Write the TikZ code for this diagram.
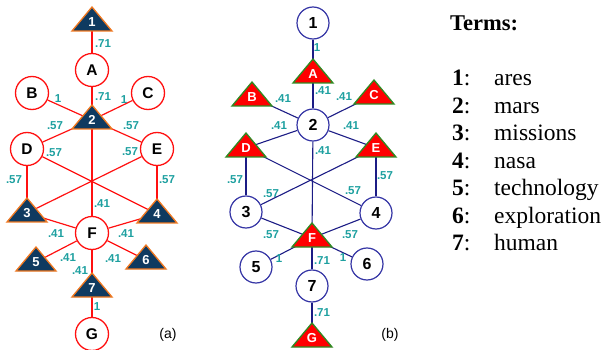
\documentclass[tikz,border=0pt]{standalone}
\usepackage{fontspec}
\setmainfont{Liberation Serif}
\setsansfont{Liberation Sans}
\usetikzlibrary{backgrounds}
\definecolor{navy}{HTML}{0F3A60}
\definecolor{orng}{HTML}{F07820}
\definecolor{trired}{HTML}{FF0000}
\definecolor{grn}{HTML}{2E8B22}
\definecolor{cblue}{HTML}{3535A5}
\definecolor{eblue}{HTML}{1C1C85}
\definecolor{tealc}{HTML}{1EA0A0}
\definecolor{lred}{HTML}{FF1010}
\tikzset{
 circa/.style={circle, draw=lred, line width=1.3pt, fill=white, minimum size=33pt, inner sep=0pt, font=\sffamily\bfseries\fontsize{15.5}{15.5}\selectfont},
 circb/.style={circle, draw=cblue, line width=1.2pt, fill=white, minimum size=32pt, inner sep=0pt, font=\sffamily\bfseries\fontsize{16}{16}\selectfont},
 tria/.style={fill=navy, draw=orng, line width=1.3pt, line join=miter},
 trib/.style={fill=trired, draw=grn, line width=1.3pt, line join=miter},
 tlab/.style={text=white, font=\sffamily\bfseries\fontsize{13}{13}\selectfont, inner sep=0pt},
 ew/.style={font=\sffamily\bfseries\fontsize{11.5}{11.5}\selectfont, text=tealc, inner sep=0pt},
 edgea/.style={draw=lred, line width=1.2pt},
 edgeb/.style={draw=eblue, line width=1.1pt},
 plab/.style={font=\sffamily\fontsize{14}{14}\selectfont, inner sep=0pt},
 term/.style={anchor=base west, inner sep=0pt, font=\fontsize{23.5}{23.5}\selectfont},
}
\newcommand\mytri[5]{%
 \path[#1] (#3,#4) -- ({#3+20},{#4+24}) -- ({#3-20},{#4+24}) -- cycle;
 \node[tlab] (#2) at (#3,{#4+15}) {#5};}
\begin{document}
\begin{tikzpicture}[x=1pt,y=-1pt]
\useasboundingbox (0,0) rectangle (603,350);
% ---------- panel (a)
\mytri{tria}{a1}{92}{7}{1}
\node[circa] (aA) at (92,70) {A};
\node[circa] (aB) at (32,93) {B};
\node[circa] (aC) at (148,93) {C};
\mytri{tria}{a2}{92}{105}{2}
\node[circa] (aD) at (27,149) {D};
\node[circa] (aE) at (157,149) {E};
\mytri{tria}{a3}{27}{198}{3}
\mytri{tria}{a4}{157}{199}{4}
\node[circa] (aF) at (92,233) {F};
\mytri{tria}{a5}{36}{247}{5}
\mytri{tria}{a6}{146}{245}{6}
\mytri{tria}{a7}{92}{273}{7}
\node[circa] (aG) at (92,334) {G};
\node[plab] (pa) at (168,335) {(a)};
\begin{pgfonlayer}{background}
\draw[edgea] (a1.center) -- (aA);
\draw[edgea] (aA) -- (a2.center);
\draw[edgea] (aB) -- (a2.center);
\draw[edgea] (aC) -- (a2.center);
\draw[edgea] (a2.center) -- (aD);
\draw[edgea] (a2.center) -- (aE);
\draw[edgea] (a2.center) -- (aF);
\draw[edgea] (aD) -- (a3.center);
\draw[edgea] (aE) -- (a4.center);
\draw[edgea] (aD) -- (a4.center);
\draw[edgea] (aE) -- (a3.center);
\draw[edgea] (a3.center) -- (aF);
\draw[edgea] (a4.center) -- (aF);
\draw[edgea] (aF) -- (a5.center);
\draw[edgea] (aF) -- (a6.center);
\draw[edgea] (aF) -- (a7.center);
\draw[edgea] (a7.center) -- (aG);
\end{pgfonlayer}
\node[ew] (la1) at (103,44) {.71};
\node[ew] (la2) at (103,97) {.71};
\node[ew] (la3) at (58,99) {1};
\node[ew] (la4) at (124,100) {1};
\node[ew] (la5) at (55,126) {.57};
\node[ew] (la6) at (131,126) {.57};
\node[ew] (la7) at (54,153) {.57};
\node[ew] (la8) at (130,152) {.57};
\node[ew] (la9) at (14,180) {.57};
\node[ew] (la10) at (167,180) {.57};
\node[ew] (la11) at (102,204) {.41};
\node[ew] (la12) at (56,234) {.41};
\node[ew] (la13) at (126,234) {.41};
\node[ew] (la14) at (68,258) {.41};
\node[ew] (la15) at (113,259) {.41};
\node[ew] (la16) at (80,271) {.41};
\node[ew] (la17) at (97,307) {1};
% ---------- panel (b)
\node[circb] (b1) at (313,23) {1};
\mytri{trib}{bA}{313}{59}{A}
\mytri{trib}{bB}{252}{82}{B}
\mytri{trib}{bC}{374}{80}{C}
\node[circb] (b2) at (313,125) {2};
\mytri{trib}{bD}{246}{133}{D}
\mytri{trib}{bE}{376}{133}{E}
\node[circb] (b3) at (246,212) {3};
\node[circb] (b4) at (376,213) {4};
\mytri{trib}{bF}{312}{223}{F}
\node[circb] (b5) at (256,267) {5};
\node[circb] (b6) at (367,264) {6};
\node[circb] (b7) at (312,286) {7};
\mytri{trib}{bG}{312}{323}{G}
\node[plab] (pb) at (390,335) {(b)};
\begin{pgfonlayer}{background}
\draw[edgeb] (b1) -- (bA.center);
\draw[edgeb] (bA.center) -- (b2);
\draw[edgeb] (bB.center) -- (b2);
\draw[edgeb] (bC.center) -- (b2);
\draw[edgeb] (b2) -- (bD.center);
\draw[edgeb] (b2) -- (bE.center);
\draw[edgeb] (b2) -- (bF.center);
\draw[edgeb] (bD.center) -- (b3);
\draw[edgeb] (bE.center) -- (b4);
\draw[edgeb] (bD.center) -- (b4);
\draw[edgeb] (bE.center) -- (b3);
\draw[edgeb] (b3) -- (bF.center);
\draw[edgeb] (b4) -- (bF.center);
\draw[edgeb] (bF.center) -- (b5);
\draw[edgeb] (bF.center) -- (b6);
\draw[edgeb] (bF.center) -- (b7);
\draw[edgeb] (b7) -- (bG.center);
\end{pgfonlayer}
\node[ew] (lb1) at (317,48) {1};
\node[ew] (lb2) at (323,91) {.41};
\node[ew] (lb3) at (283,99) {.41};
\node[ew] (lb4) at (344,97) {.41};
\node[ew] (lb5) at (279,126) {.41};
\node[ew] (lb6) at (351,126) {.41};
\node[ew] (lb7) at (323,151) {.41};
\node[ew] (lb8) at (385,176) {.57};
\node[ew] (lb9) at (235,180) {.57};
\node[ew] (lb10) at (271,194) {.57};
\node[ew] (lb11) at (353,191) {.57};
\node[ew] (lb12) at (271,235) {.57};
\node[ew] (lb13) at (350,235) {.57};
\node[ew] (lb14) at (279,259) {1};
\node[ew] (lb15) at (343,258) {1};
\node[ew] (lb16) at (322,261) {.71};
\node[ew] (lb17) at (322,313) {.71};
% ---------- terms
\node[anchor=base west, inner sep=0pt, font=\bfseries\fontsize{22.5}{22.5}\selectfont] (terms) at (450,31) {Terms:};
\foreach \n/\w/\y in {1/ares/86, 2/mars/113.4, 3/missions/140.8, 4/nasa/168.2, 5/technology/195.6, 6/exploration/223, 7/human/250.4}{
 \node[term] (n\n) at (452,\y) {\textbf{\n}:};
 \node[term] (w\n) at (494,\y) {\w};
}
\end{tikzpicture}
\end{document}
